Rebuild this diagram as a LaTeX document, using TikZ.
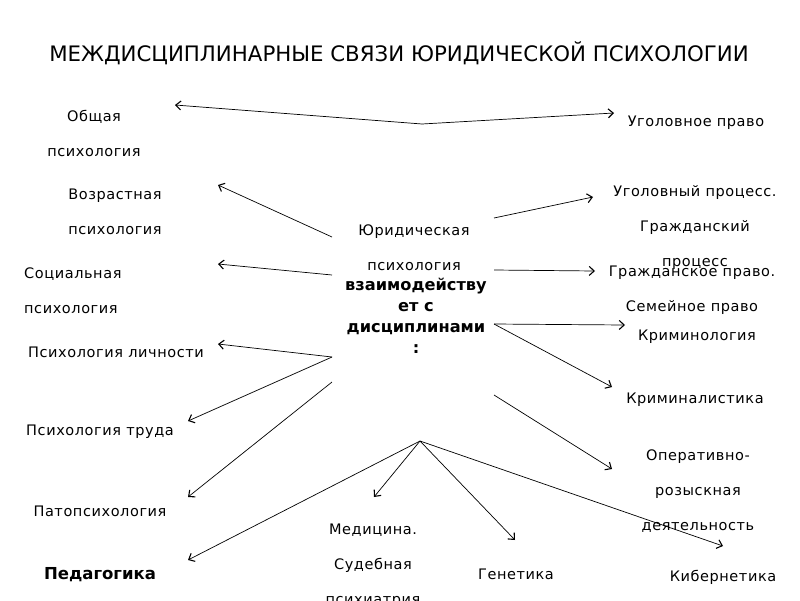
\documentclass[tikz,border=0pt]{standalone}
\usepackage{fontspec}
\setmainfont{DejaVu Sans}
\newfontfamily\spacedfont[LetterSpace=4]{DejaVu Sans}
\usetikzlibrary{arrows.meta}

\begin{document}
\begin{tikzpicture}[x=1pt, y=-1pt,
    lbl/.style={font=\spacedfont\fontsize{14.5}{35}\selectfont, align=center, inner sep=0pt},
    hub/.style={font=\bfseries\fontsize{16.2}{21}\selectfont, align=center, inner sep=0pt},
    link/.style={->, >={Straight Barb[length=5pt, width=9pt, line width=1.1pt]}, line width=0.7pt}]
    \useasboundingbox[fill=white] (0, 0) rectangle (800, 600);

    \node[inner sep=0pt] (title) at (399, 53) {\fontsize{21.3}{24}\selectfont МЕЖДИСЦИПЛИНАРНЫЕ СВЯЗИ ЮРИДИЧЕСКОЙ ПСИХОЛОГИИ};

    % centre
    \node[lbl] (jur) at (414, 248) {Юридическая\\психология};
    \node[hub] (inter) at (416, 316) {взаимодейству\\ет с\\дисциплинами\\:};

    % left column
    \node[lbl] (obsh) at (94, 133.5) {Общая\\психология};
    \node[lbl] (vozr) at (115, 212) {Возрастная\\психология};
    \node[lbl, anchor=west, align=left] (soc) at (24, 291) {Социальная\\психология};
    \node[lbl] (lichn) at (116, 352) {Психология личности};
    \node[lbl] (trud) at (100, 432) {Психология труда};
    \node[lbl] (pato) at (100, 511) {Патопсихология};
    \node[lbl, font=\bfseries\fontsize{16.5}{19}\selectfont] (ped) at (100, 575) {Педагогика};

    % right column
    \node[lbl] (ugol) at (696, 123) {Уголовное право};
    \node[lbl] (proc) at (695, 227) {Уголовный процесс.\\Гражданский\\процесс};
    \node[lbl] (grazh) at (692, 290) {Гражданское право.\\Семейное право};
    \node[lbl] (krimlog) at (697, 337) {Криминология};
    \node[lbl] (krimist) at (695, 400) {Криминалистика};
    \node[lbl] (oper) at (698, 491) {Оперативно-\\розыскная\\деятельность};
    \node[lbl] (kiber) at (723, 577) {Кибернетика};

    % bottom
    \node[lbl] (genet) at (516, 574) {Генетика};
    \node[lbl] (med) at (373, 566) {Медицина.\\Судебная\\психиатрия};

    % connector points
    \coordinate (topmid) at (422, 124);
    \coordinate (obshtip) at (175, 105);
    \coordinate (ugoltip) at (614, 113);
    \coordinate (lfa) at (332, 237);
    \coordinate (lfb) at (332, 275);
    \coordinate (lfc) at (332, 357);
    \coordinate (lfd) at (332, 382);
    \coordinate (bot) at (420, 441);
    \coordinate (rta) at (494, 218);
    \coordinate (rtb) at (494, 270);
    \coordinate (rtc) at (494, 324);
    \coordinate (rtd) at (494, 395);
    \coordinate (vozrtip) at (218, 185);
    \coordinate (soctip) at (218, 264);
    \coordinate (lichntip) at (218, 344);
    \coordinate (trudtip) at (188, 421);
    \coordinate (patotip) at (188, 497);
    \coordinate (pedtip) at (188, 560);
    \coordinate (medtip) at (374, 497);
    \coordinate (genettip) at (515, 540);
    \coordinate (kibertip) at (723, 546);
    \coordinate (proctip) at (593, 197);
    \coordinate (grazhtip) at (595, 271);
    \coordinate (krimlogtip) at (625, 325);
    \coordinate (krimisttip) at (612, 387);
    \coordinate (opertip) at (612, 469);

    \draw[link, <->] (obshtip) -- (topmid) -- (ugoltip);
    \draw[link] (lfa) -- (vozrtip);
    \draw[link] (lfb) -- (soctip);
    \draw[link] (lfc) -- (lichntip);
    \draw[link] (lfc) -- (trudtip);
    \draw[link] (lfd) -- (patotip);
    \draw[link] (bot) -- (pedtip);
    \draw[link] (bot) -- (medtip);
    \draw[link] (bot) -- (genettip);
    \draw[link] (bot) -- (kibertip);
    \draw[link] (rta) -- (proctip);
    \draw[link] (rtb) -- (grazhtip);
    \draw[link] (rtc) -- (krimlogtip);
    \draw[link] (rtc) -- (krimisttip);
    \draw[link] (rtd) -- (opertip);
\end{tikzpicture}
\end{document}
